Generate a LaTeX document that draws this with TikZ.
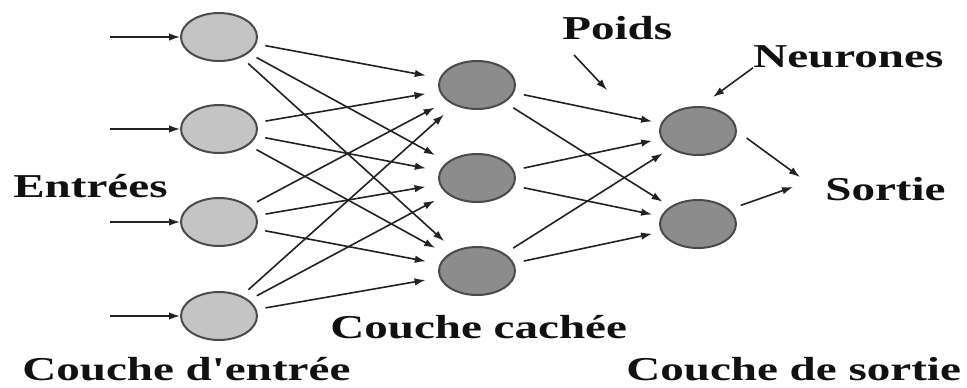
\documentclass[tikz,border=0pt]{standalone}
\usepackage{fontspec}
\setmainfont{Liberation Serif}
\newfontfamily\lblfont[FakeStretch=1.41]{Liberation Serif}
\usetikzlibrary{arrows.meta,shapes.geometric}
\definecolor{inFill}{HTML}{C4C4C4}
\definecolor{darkFill}{HTML}{8C8C8C}
\definecolor{nodeBorder}{HTML}{4A4A4A}
\definecolor{lineCol}{HTML}{222222}
\definecolor{txtCol}{HTML}{111111}
\begin{document}
\begin{tikzpicture}[x=0.02cm,y=-0.02cm,
  neuron/.style={ellipse, draw=nodeBorder, line width=0.04cm, minimum width=1.52cm, minimum height=0.96cm, inner sep=0pt},
  inneur/.style={neuron, fill=inFill},
  darkneur/.style={neuron, fill=darkFill},
  conn/.style={draw=lineCol, line width=0.032cm, -{Latex[length=0.22cm,width=0.15cm]}},
  lbl/.style={font=\lblfont\bfseries\fontsize{19}{22}\selectfont, text=txtCol, inner sep=0pt, anchor=base west}]
\useasboundingbox (0,0) rectangle (967,387);
\fill[white] (0,0) rectangle (967,387);
% input layer
\node[inneur] (i1) at (219,37) {};
\node[inneur] (i2) at (219,129) {};
\node[inneur] (i3) at (219,222) {};
\node[inneur] (i4) at (219,316) {};
% hidden layer
\node[darkneur] (h1) at (477,85) {};
\node[darkneur] (h2) at (477,178) {};
\node[darkneur] (h3) at (477,271) {};
% output layer
\node[darkneur] (o1) at (698,131) {};
\node[darkneur] (o2) at (698,224) {};
% input arrows
\foreach \k/\yy in {1/37,2/129,3/222,4/316}{
  \coordinate (x\k) at (110,\yy);
  \draw[conn] (x\k) -- (i\k);
}
% input -> hidden
\foreach \a in {1,...,4}{
  \foreach \b in {1,2,3}{
    \draw[conn, shorten <=0.18cm, shorten >=0.28cm] (i\a) -- (h\b);
  }
}
% hidden -> output
\foreach \a in {1,2,3}{
  \foreach \b in {1,2}{
    \draw[conn, shorten <=0.2cm, shorten >=0.18cm] (h\a) -- (o\b);
  }
}
% labels
\node[lbl] (poids) at (562,39) {Poids};
\node[lbl] (neur) at (753,67) {Neurones};
\node[lbl] (sortie) at (825,200) {Sortie};
\node[lbl] (entrees) at (13,197) {Entrées};
\node[lbl] (cachee) at (330,338) {Couche cachée};
\node[lbl] (centree) at (22,380) {Couche d'entrée};
\node[lbl] (csortie) at (626,380) {Couche de sortie};
% label arrows
\coordinate (p0) at (574,55);
\coordinate (p1) at (607,90);
\draw[conn] (p0) -- (p1);
\coordinate (n1) at (713,97);
\draw[conn] (neur.south west) -- (n1);
\coordinate (s1) at (800,177);
\coordinate (s2) at (793,187);
\draw[conn, shorten <=0.24cm] (o1.east) -- (s1);
\draw[conn, shorten <=0.24cm] (o2.25) -- (s2);
\end{tikzpicture}
\end{document}
